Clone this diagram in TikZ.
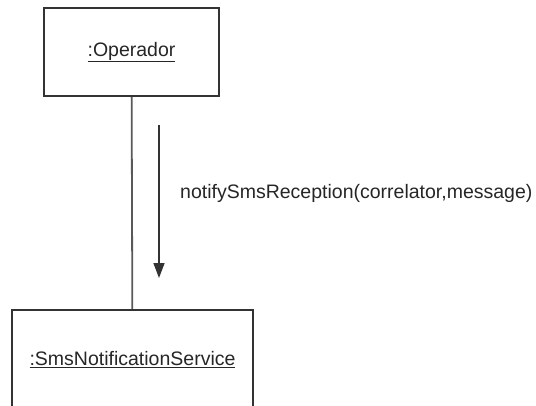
\documentclass[tikz,border=0pt]{standalone}
\usepackage{fontspec}
\setmainfont{Liberation Sans}
\usetikzlibrary{arrows.meta}

\begin{document}
\begin{tikzpicture}[x=1bp, y=-1bp,
    every node/.style={font=\fontsize{19.5bp}{23bp}\selectfont, text=black!85},
    object/.style={draw=black!80, line width=1.8bp, rectangle, inner sep=0pt},
    link/.style={draw=black!65, line width=1.8bp},
    message/.style={draw=black!80, line width=1.5bp, -{Triangle[width=11bp,length=15bp]}}]

        \clip (0,0) rectangle (536,405);

        % Objects
        \node[object, minimum width=175bp, minimum height=88bp] (oper) at (131.5,52) {\underline{:Operador}};
        \node[object, minimum width=241bp, minimum height=100bp] (svc) at (132.5,360) {\underline{:SmsNotificationService}};

        % Link
        \draw[link] (oper) -- (svc);

        % Message
        \coordinate (msgStart) at (159,125);
        \coordinate (msgEnd) at (159,278);
        \draw[message] (msgStart) -- (msgEnd);
        \node[anchor=west, inner sep=0pt] (msgLabel) at (180,193) {notifySmsReception(correlator,message)};

    \end{tikzpicture}
\end{document}
